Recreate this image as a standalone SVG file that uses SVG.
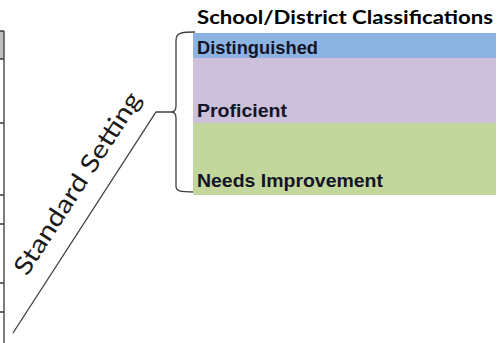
<svg xmlns="http://www.w3.org/2000/svg" width="503" height="343" viewBox="0 0 503 343">
<style>
.tbl{stroke:#3a3a3a;stroke-width:1.3;fill:none}
.conn{stroke:#404040;stroke-width:1.3;fill:none}
.lbl{font-family:"Liberation Sans",Arial,sans-serif;font-weight:bold;font-size:19px;fill:#141428}
.title{font-family:Lato,"Open Sans",sans-serif;font-weight:bold;font-size:18px;fill:#000}
.rot{font-family:Lato,"Open Sans",sans-serif;font-size:25px;fill:#1a1a1a}
</style>
<rect width="503" height="343" fill="#fff"/>
<g id="table-edge">
<rect x="0" y="31" width="4" height="28" fill="#c0c0c0"/>
<path class="tbl" d="M4,31V343M0,31H4M0,59H4M0,123H4M0,195H4M0,224H4M0,283H4M0,312H4"/>
</g>
<g id="connectors">
<path class="conn" d="M13,333L156,112L171,112"/>
<path class="conn" d="M195,32C181,32 176,33 176,40L176,106C176,110 174,112 171,112C174,112 176,114 176,118L176,186C176,191 179,192 195,192"/>
</g>
<g id="standard-setting">
<text class="rot" transform="translate(27,277) rotate(-57.1)" textLength="212" lengthAdjust="spacingAndGlyphs">Standard Setting</text>
</g>
<g id="classifications">
<text class="title" x="197" y="24" textLength="296" lengthAdjust="spacingAndGlyphs">School/District Classifications</text>
</g>
<g id="distinguished">
<rect x="193" y="33" width="303" height="25" fill="#8db3e2"/>
<text class="lbl" x="197" y="54" textLength="121" lengthAdjust="spacingAndGlyphs">Distinguished</text>
</g>
<g id="proficient">
<rect x="193" y="58" width="303" height="65" fill="#ccc0da"/>
<text class="lbl" x="197" y="117" textLength="90" lengthAdjust="spacingAndGlyphs">Proficient</text>
</g>
<g id="needs-improvement">
<rect x="193" y="123" width="303" height="72" fill="#c3d69b"/>
<text class="lbl" x="197" y="187" textLength="186" lengthAdjust="spacingAndGlyphs">Needs Improvement</text>
</g>
</svg>
